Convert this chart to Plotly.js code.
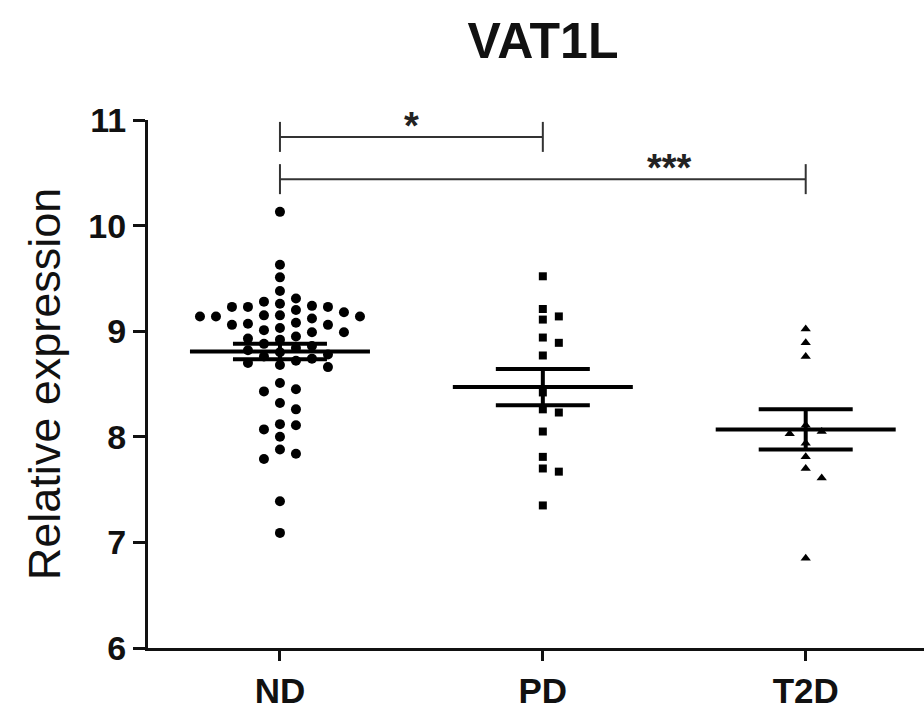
<!DOCTYPE html>
<html>
<head>
<meta charset="utf-8">
<script src="https://cdn.plot.ly/plotly-3.0.1.min.js"></script>
<style>html,body{margin:0;padding:0;background:#fff;}#chart{width:924px;height:709px;}</style>
</head>
<body>
<div id="chart"></div>
<script>
// ---- data ----
const categories = ['ND', 'PD', 'T2D'];
const ndValues = [10.13, 9.63, 9.51, 9.38, 9.31, 9.28, 9.26, 9.24, 9.23, 9.23, 9.23, 9.20, 9.18,
  9.15, 9.15, 9.14, 9.14, 9.14, 9.12, 9.08, 9.07, 9.06, 9.06, 9.03, 9.01, 8.99, 8.99, 8.95, 8.93,
  8.92, 8.88, 8.86, 8.84, 8.82, 8.80, 8.78, 8.76, 8.74, 8.72, 8.70, 8.68, 8.66, 8.51, 8.45, 8.43,
  8.32, 8.26, 8.12, 8.11, 8.07, 8.00, 7.88, 7.84, 7.79, 7.39, 7.09];
const pdValues = [9.52, 9.21, 9.14, 9.11, 8.94, 8.89, 8.77, 8.42, 8.26, 8.23, 8.05, 7.81, 7.70, 7.67, 7.35];
const t2dValues = [9.02, 8.89, 8.76, 8.11, 8.05, 8.03, 7.94, 7.81, 7.70, 7.61, 6.85];
const sigPairs = [[0, 1], [0, 2]];
const sigLabels = ['*', '***'];
const yTicks = [6, 7, 8, 9, 10, 11];

// ---- layout constants ----
const W = 924, H = 709;
const M = {l: 148, r: 0, t: 120, b: 61};
const xRange = [-0.502, 2.45];
const yRange = [6, 11];
const plotW = W - M.l - M.r, plotH = H - M.t - M.b;
const pxPerX = plotW / (xRange[1] - xRange[0]);
const pxPerY = plotH / (yRange[1] - yRange[0]);
const FONT = 'Liberation Sans, Arial, sans-serif';

const groups = [ndValues, pdValues, t2dValues];
const symbols = ['circle', 'square', 'triangle-up'];
const sizes = [10, 8, 9];
const slotPx = 16;

function swarm(vals, center, minGap) {
  const placed = [];
  const xs = [];
  vals.forEach(v => {
    let k = 0, slot = 0;
    while (true) {
      slot = (k === 0) ? 0 : (k % 2 === 1 ? (k + 1) / 2 : -k / 2);
      const hit = placed.some(p => p.slot === slot && Math.abs(p.v - v) * pxPerY < minGap);
      if (!hit) break;
      k++;
    }
    placed.push({v: v, slot: slot});
    xs.push(center + slot * slotPx / pxPerX);
  });
  return xs;
}
function mean(a) { return a.reduce((s, v) => s + v, 0) / a.length; }
function sem(a) {
  const m = mean(a);
  const sd = Math.sqrt(a.reduce((s, v) => s + (v - m) * (v - m), 0) / (a.length - 1));
  return sd / Math.sqrt(a.length);
}

const traces = [];
groups.forEach((vals, i) => {
  traces.push({
    type: 'scatter', mode: 'markers', x: swarm(vals, i, sizes[i] + 1), y: vals,
    marker: {symbol: symbols[i], size: sizes[i], color: '#000', line: {width: 0}},
    cliponaxis: false, hoverinfo: 'y', showlegend: false
  });
});
const meanHalf = 90 / pxPerX;
groups.forEach((vals, i) => {
  const m = mean(vals), s = sem(vals);
  traces.push({
    type: 'scatter', mode: 'lines', x: [i - meanHalf, i + meanHalf], y: [m, m],
    line: {color: '#000', width: 4}, showlegend: false, hoverinfo: 'skip'
  });
  traces.push({
    type: 'scatter', mode: 'markers', x: [i], y: [m],
    marker: {size: 1, color: 'rgba(0,0,0,0)'},
    error_y: {type: 'data', array: [s], visible: true, color: '#000', thickness: 4, width: 47},
    showlegend: false, hoverinfo: 'skip'
  });
});

const shapes = [], annotations = [];
const bracketY = [10.84, 10.44];
const tickH = 15 / pxPerY;
const labelX = [0.5, 1.48];
const labelY = [11.0, 10.60];
sigPairs.forEach((p, k) => {
  const y = bracketY[k];
  const st = {color: '#333', width: 2};
  shapes.push({type: 'line', xref: 'x', yref: 'y', x0: p[0], x1: p[1], y0: y, y1: y, line: st});
  shapes.push({type: 'line', xref: 'x', yref: 'y', x0: p[0], x1: p[0], y0: y - tickH, y1: y + tickH, line: st});
  shapes.push({type: 'line', xref: 'x', yref: 'y', x0: p[1], x1: p[1], y0: y - tickH, y1: y + tickH, line: st});
  annotations.push({
    xref: 'x', yref: 'y', x: labelX[k], y: labelY[k], text: sigLabels[k], showarrow: false,
    xanchor: 'center', yanchor: 'middle', yshift: -6,
    font: {family: FONT, size: 38, color: '#222', weight: 700}
  });
});

const layout = {
  width: W, height: H,
  margin: M,
  paper_bgcolor: '#fff', plot_bgcolor: '#fff',
  showlegend: false,
  title: {
    text: 'VAT1L', font: {family: FONT, size: 50, color: '#111', weight: 700},
    xref: 'container', x: 543 / W, xanchor: 'center', yref: 'container', y: 1 - 40 / H, yanchor: 'middle'
  },
  xaxis: {
    range: xRange, tickvals: [0, 1, 2], ticktext: categories,
    showline: true, linecolor: '#111', linewidth: 3, ticks: 'outside', ticklen: 10, tickwidth: 3, tickcolor: '#111',
    showgrid: false, zeroline: false, fixedrange: true,
    tickfont: {family: FONT, size: 35, color: '#111', weight: 700}
  },
  yaxis: {
    range: yRange, tickvals: yTicks, ticktext: yTicks.map(String),
    showline: true, linecolor: '#111', linewidth: 3, ticks: 'outside', ticklen: 12, tickwidth: 3, tickcolor: '#111',
    showgrid: false, zeroline: false, fixedrange: true,
    tickfont: {family: FONT, size: 34, color: '#111', weight: 700},
    title: {text: 'Relative expression', standoff: 14, font: {family: FONT, size: 45, color: '#111'}}
  },
  shapes: shapes,
  annotations: annotations
};

Plotly.newPlot('chart', traces, layout, {displayModeBar: false, staticPlot: true});
</script>
</body>
</html>
